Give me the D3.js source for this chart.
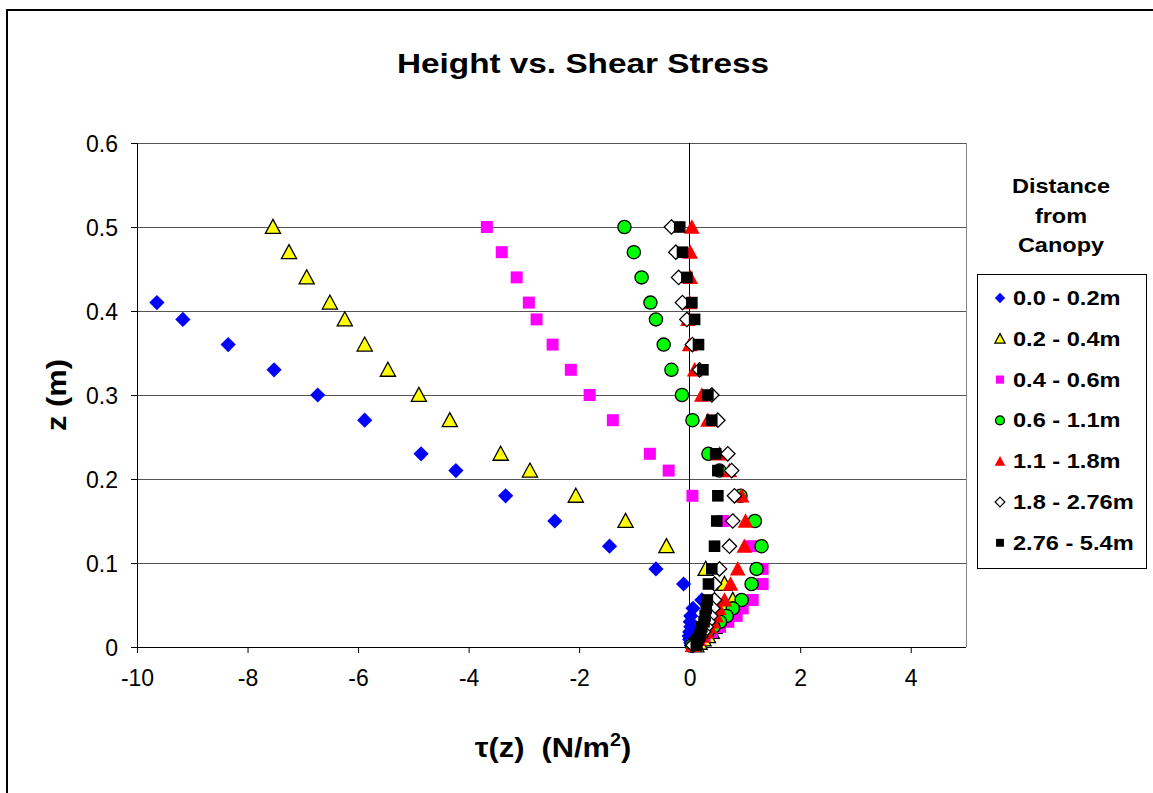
<!DOCTYPE html>
<html><head><meta charset="utf-8">
<script src="https://cdn.jsdelivr.net/npm/d3@7"></script>
<style>body{margin:0;background:#fff}svg{display:block}text{font-family:"Liberation Sans",Arial,sans-serif}</style>
</head><body><svg id="c" width="1153" height="793"></svg>
<script>
const heights = [0.50,0.47,0.44,0.41,0.39,0.36,0.33,0.30,0.27,0.23,0.21,0.18,0.15,0.12,0.093,0.075,0.056,0.046,0.037,0.030,0.024,0.018,0.013,0.009,0.005,0.002];
const tau00_02 = [null,null,null,-9.64,-9.17,-8.35,-7.52,-6.73,-5.88,-4.86,-4.23,-3.33,-2.44,-1.45,-0.61,-0.11,0.22,0.06,0.02,0.01,0.02,0.0,-0.01,0.0,0.02,0.03];
const tau02_04 = [-7.54,-7.25,-6.93,-6.51,-6.24,-5.88,-5.46,-4.90,-4.34,-3.42,-2.89,-2.06,-1.16,-0.42,0.29,0.63,0.78,0.62,0.55,0.50,0.45,0.40,0.33,0.25,0.18,0.12];
const tau04_06 = [-3.67,-3.40,-3.13,-2.91,-2.77,-2.48,-2.15,-1.81,-1.39,-0.72,-0.38,0.05,0.60,1.12,1.32,1.32,1.14,0.96,0.85,0.70,0.55,0.40,0.27,0.17,0.10,0.06];
const tau06_11 = [-1.18,-1.01,-0.87,-0.71,-0.61,-0.47,-0.33,-0.14,0.05,0.34,0.54,0.92,1.18,1.30,1.21,1.12,0.94,0.78,0.67,0.55,0.43,0.32,0.22,0.14,0.08,0.04];
const tau11_18 = [0.04,0.01,0.01,0.0,-0.03,0.0,0.09,0.22,0.33,0.54,0.72,0.94,1.01,0.99,0.87,0.74,0.63,0.53,0.48,0.42,0.36,0.30,0.22,0.15,0.09,0.05];
const tau18_276 = [-0.33,-0.25,-0.20,-0.13,-0.05,0.05,0.18,0.40,0.51,0.69,0.76,0.81,0.78,0.72,0.54,0.45,0.45,0.42,0.38,0.34,0.30,0.25,0.20,0.15,0.10,0.06];
const tau276_54 = [-0.18,-0.13,-0.05,0.04,0.09,0.16,0.24,0.33,0.40,0.47,0.51,0.51,0.49,0.45,0.40,0.34,0.32,0.30,0.28,0.26,0.22,0.20,0.18,0.15,0.13,0.12];
const seriesNames = ["0.0 - 0.2m","0.2 - 0.4m","0.4 - 0.6m","0.6 - 1.1m","1.1 - 1.8m","1.8 - 2.76m","2.76 - 5.4m"];
const xTicks = [-10,-8,-6,-4,-2,0,2,4];
const yTicks = [0,0.1,0.2,0.3,0.4,0.5,0.6];

const seriesVals = [tau00_02,tau02_04,tau04_06,tau06_11,tau11_18,tau18_276,tau276_54];
const styles = [
  {shape:"diamond", fill:"#0000FF", stroke:"none", s:7.6},
  {shape:"triangle", fill:"#FFFF00", stroke:"#000", s:7.6},
  {shape:"square", fill:"#FF00FF", stroke:"none", s:6},
  {shape:"circle", fill:"#00FF00", stroke:"#000", s:6.6},
  {shape:"triangle", fill:"#FF0000", stroke:"none", s:7.8},
  {shape:"diamond", fill:"#FFFFFF", stroke:"#000", s:7.2},
  {shape:"square", fill:"#000000", stroke:"none", s:5.8}
];
function shapePath(shape, s){
  if(shape==="diamond") return `M0,${-s}L${s},0L0,${s}L${-s},0Z`;
  if(shape==="square") return `M${-s},${-s}H${s}V${s}H${-s}Z`;
  if(shape==="triangle") return `M0,${-s}L${s},${s*0.85}L${-s},${s*0.85}Z`;
  return `M${s},0A${s},${s} 0 1,1 ${-s},0A${s},${s} 0 1,1 ${s},0Z`;
}

const svg = d3.select("#c");
const M = {l:137, r:966, t:143, b:647};
const x = d3.scaleLinear().domain([-10,5]).range([M.l,M.r]);
const y = d3.scaleLinear().domain([0,0.6]).range([M.b,M.t]);

svg.append("rect").attr("x",7).attr("y",10).attr("width",1170).attr("height",800)
  .attr("fill","none").attr("stroke","#000").attr("stroke-width",2);

svg.append("text").attr("transform","translate(583,73) scale(1.19,1)")
  .attr("text-anchor","middle").attr("font-size",28).attr("font-weight","bold").text("Height vs. Shear Stress");

svg.append("g").selectAll("line").data(yTicks.filter(d=>d>0)).join("line")
  .attr("x1",M.l).attr("x2",M.r).attr("y1",d=>y(d)).attr("y2",d=>y(d))
  .attr("stroke","#555").attr("stroke-width",1).attr("shape-rendering","crispEdges");
svg.append("line").attr("x1",M.r).attr("x2",M.r).attr("y1",M.t).attr("y2",M.b)
  .attr("stroke","#888").attr("shape-rendering","crispEdges");
svg.append("line").attr("x1",x(0)).attr("x2",x(0)).attr("y1",M.t).attr("y2",M.b)
  .attr("stroke","#000").attr("shape-rendering","crispEdges");

const gx = svg.append("g").attr("transform",`translate(0,${M.b})`)
  .call(d3.axisBottom(x).tickValues(xTicks).tickSize(6).tickPadding(17).tickFormat(d=>String(d)));
gx.selectAll("text").attr("font-size",23).attr("fill","#000").style("font-family","Liberation Sans, Arial");
gx.select(".domain").attr("d",`M${M.l},0.5H${M.r}`);
const gy = svg.append("g").attr("transform",`translate(${M.l},0)`)
  .call(d3.axisLeft(y).tickValues(yTicks).tickSize(6).tickPadding(13).tickFormat(d=>d===0?"0":d3.format(".1f")(d)));
gy.selectAll("text").attr("font-size",23).attr("fill","#000").attr("dy","0.36em").style("font-family","Liberation Sans, Arial");
svg.selectAll(".domain").attr("stroke","#000");
svg.selectAll(".tick line").attr("stroke","#000");

svg.append("text").attr("transform","translate(553,757) scale(1.1,1)").attr("text-anchor","middle")
  .attr("font-size",28).attr("font-weight","bold")
  .html('τ(z)&#160; (N/m<tspan font-size="18" dy="-11">2</tspan><tspan dy="11">)</tspan>');
svg.append("text").attr("transform","translate(66,395) rotate(-90) scale(1.1,1)").attr("text-anchor","middle")
  .attr("font-size",28).attr("font-weight","bold").text("z (m)");

seriesVals.forEach((vals,i)=>{
  const st = styles[i];
  const pts = heights.map((h,j)=>({z:h,t:vals[j]})).filter(d=>d.t!==null);
  svg.append("g").selectAll("path").data(pts).join("path")
    .attr("d",shapePath(st.shape,st.s))
    .attr("transform",d=>`translate(${x(d.t)},${y(d.z)})`)
    .attr("fill",st.fill).attr("stroke",st.stroke).attr("stroke-width",1.3);
});

["Distance","from","Canopy"].forEach((t,i)=>{
  svg.append("text").attr("transform",`translate(1061,${193+i*29.5}) scale(1.12,1)`).attr("text-anchor","middle")
    .attr("font-size",21).attr("font-weight","bold").text(t);
});
svg.append("rect").attr("x",977.5).attr("y",274.5).attr("width",169).attr("height",294)
  .attr("fill","#fff").attr("stroke","#000").attr("stroke-width",1);
seriesNames.forEach((n,i)=>{
  const cy = 298 + i*40.8;
  const st = styles[i];
  svg.append("path").attr("d",shapePath(st.shape,st.s*0.68)).attr("transform",`translate(1000,${cy})`)
    .attr("fill",st.fill).attr("stroke",st.stroke).attr("stroke-width",1.2);
  svg.append("text").attr("transform",`translate(1013,${cy+7}) scale(1.18,1)`).attr("font-size",20)
    .attr("font-weight","bold").text(n);
});
</script></body></html>
